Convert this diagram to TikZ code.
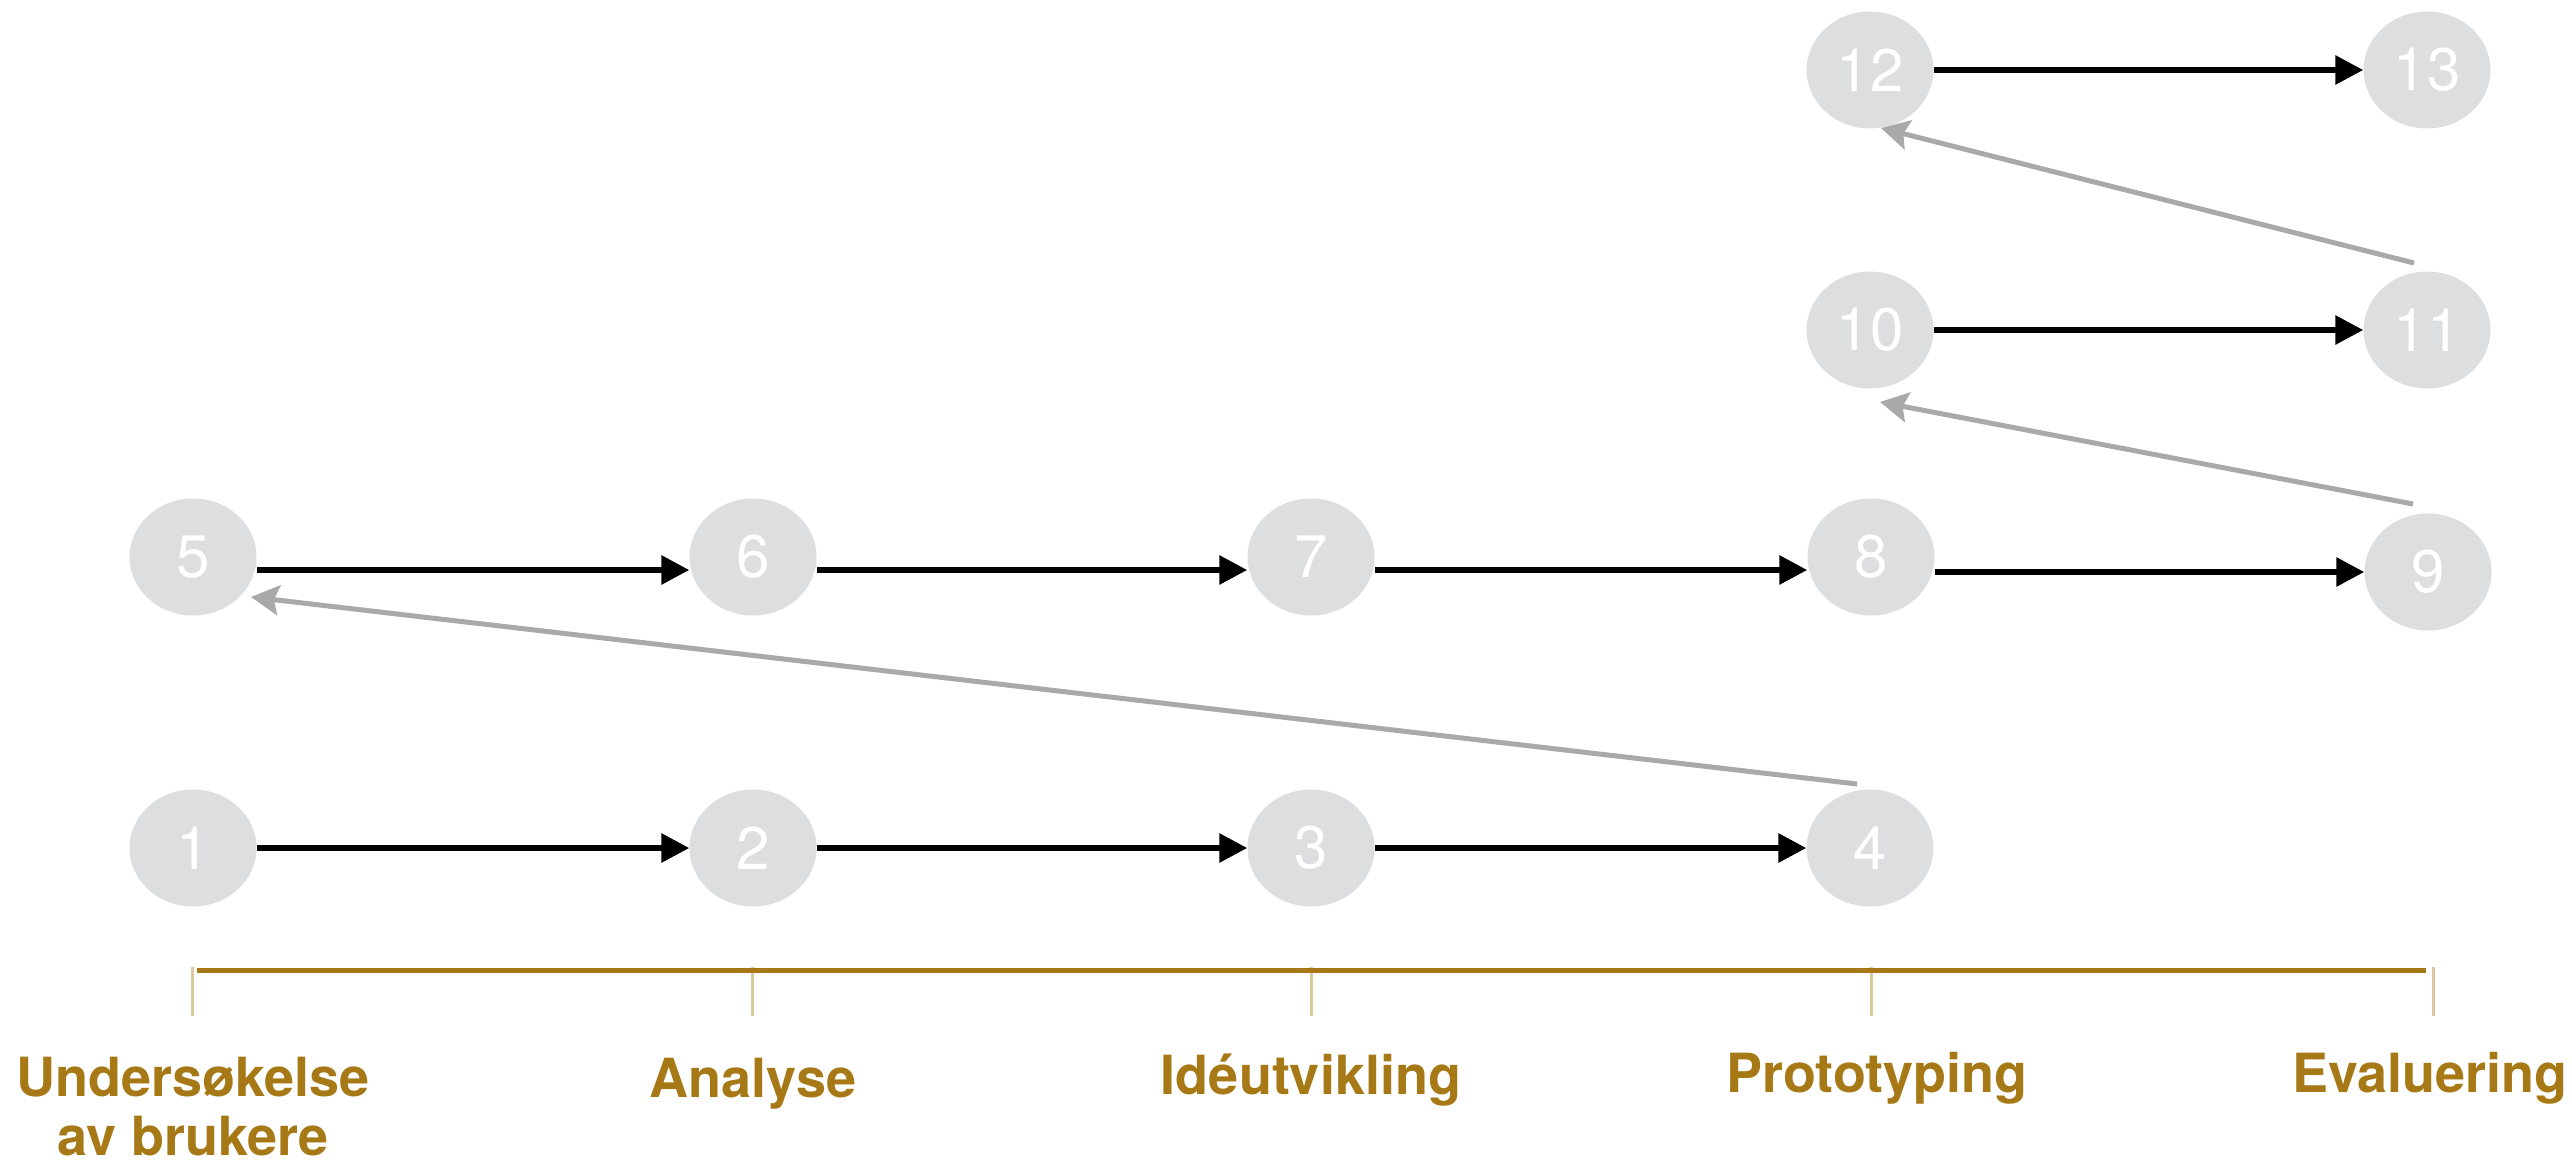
\documentclass[tikz,border=0pt]{standalone}
\usepackage{fontspec}
\setmainfont{TeX Gyre Heros}
\usetikzlibrary{arrows.meta,shapes.geometric}
\definecolor{nodefill}{RGB}{221,222,224}
\definecolor{gold}{RGB}{166,121,22}
\definecolor{tickcol}{RGB}{219,199,155}
\definecolor{grayarr}{RGB}{168,170,170}
\begin{document}
\begin{tikzpicture}[x=1pt,y=-1pt,
  stepnode/.style={ellipse, fill=nodefill, minimum width=127pt, minimum height=117pt, inner sep=0pt, text=white, font=\fontsize{60}{60}\selectfont},
  fwd/.style={draw=black, line width=6pt, -{Triangle[length=28pt,width=28pt]}},
  back/.style={draw=grayarr, line width=5pt, -{Stealth[length=28pt,width=30pt,inset=5pt]}},
  phase/.style={text=gold, font=\fontsize{54}{59}\bfseries\selectfont, align=center, anchor=base},
  tickline/.style={draw=tickcol, line width=3pt},
  axis/.style={draw=gold, line width=5pt}
]
\useasboundingbox (0,0) rectangle (2572,1164);

% nodes
\node[stepnode] (n1) at (193,848) {1};
\node[stepnode] (n2) at (753,848) {2};
\node[stepnode] (n3) at (1311,848) {3};
\node[stepnode] (n4) at (1870,848) {4};
\node[stepnode] (n5) at (193,557) {5};
\node[stepnode] (n6) at (753,557) {6};
\node[stepnode] (n7) at (1311,557) {7};
\node[stepnode] (n8) at (1871,557) {8};
\node[stepnode] (n9) at (2428,572) {9};
\node[stepnode] (n10) at (1870,330) {10};
\node[stepnode] (n11) at (2427,330) {11};
\node[stepnode] (n12) at (1870,70) {12};
\node[stepnode] (n13) at (2427,70) {13};

% forward arrows
\draw[fwd] (n1) -- (n2);
\draw[fwd] (n2) -- (n3);
\draw[fwd] (n3) -- (n4);
\draw[fwd] ([yshift=-13pt]n5.east) -- ([yshift=-13pt]n6.west);
\draw[fwd] ([yshift=-13pt]n6.east) -- ([yshift=-13pt]n7.west);
\draw[fwd] ([yshift=-13pt]n7.east) -- ([yshift=-13pt]n8.west);
\draw[fwd] (n8.east |- n9.west) -- (n9.west);
\draw[fwd] (n10) -- (n11);
\draw[fwd] (n12) -- (n13);

% backward (grey) arrows
\coordinate (t4) at ([shift={(-13pt,64pt)}]n4.center);
\coordinate (h5) at ([shift={(58pt,-40pt)}]n5.center);
\coordinate (t9) at ([shift={(-15pt,68pt)}]n9.center);
\coordinate (h10) at ([shift={(10pt,-72pt)}]n10.center);
\coordinate (t11) at ([shift={(-13pt,67pt)}]n11.center);
\coordinate (h12) at ([shift={(11pt,-58pt)}]n12.center);
\draw[back] (t4) -- (h5);
\draw[back] (t9) -- (h10);
\draw[back] (t11) -- (h12);

% timeline
\foreach \x/\nm in {192/a,752/b,1311/c,1871/d,2433/e}{
  \coordinate (tk\nm) at (\x,967);
  \draw[tickline] (tk\nm) -- ++(0,49);
}
\coordinate (ax0) at (197,970);
\coordinate (ax1) at (2426,970);
\draw[axis] (ax0) -- (ax1);

% labels
\node[phase] (l1) at (193,1155) {Undersøkelse\\av brukere};
\node[phase] (l2) at (753,1097) {Analyse};
\node[phase] (l3) at (1311,1094) {Idéutvikling};
\node[phase] (l4) at (1877,1092) {Prototyping};
\node[phase] (l5) at (2430,1092) {Evaluering};
\end{tikzpicture}
\end{document}
